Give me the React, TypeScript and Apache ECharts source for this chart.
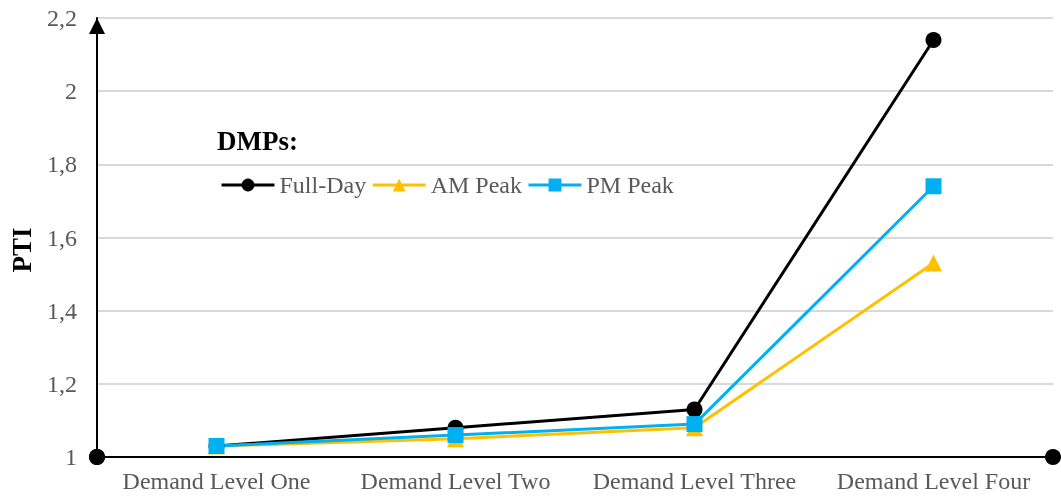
import React, { useEffect, useRef } from "react";
import * as echarts from "echarts";

const categories = ["Demand Level One", "Demand Level Two", "Demand Level Three", "Demand Level Four"];
const fullDay = [1.03, 1.08, 1.13, 2.14];
const amPeak = [1.03, 1.05, 1.08, 1.53];
const pmPeak = [1.03, 1.06, 1.09, 1.74];

const FONT = "'Liberation Serif', 'Times New Roman', serif";

export default function App() {
  const ref = useRef<HTMLDivElement>(null);
  useEffect(() => {
    if (!ref.current) return;
    const chart = echarts.init(ref.current, undefined, { renderer: "svg" });
    const lineSeries = (name: string, data: number[], color: string, symbol: string, size: number) => ({
      name,
      type: "line",
      data,
      symbol,
      symbolSize: size,
      itemStyle: { color },
      lineStyle: { color, width: 3 },
    });
    chart.setOption({
      animation: false,
      textStyle: { fontFamily: FONT },
      title: {
        text: "DMPs:",
        left: 217,
        top: 127,
        padding: 0,
        textStyle: { fontFamily: FONT, fontWeight: "bold", fontSize: 27, color: "#000" },
      },
      graphic: [
        {
          type: "text",
          x: 22,
          y: 250,
          rotation: Math.PI / 2,
          style: {
            text: "PTI",
            fontFamily: FONT,
            fontWeight: "bold",
            fontSize: 27,
            fill: "#000",
            align: "center",
            verticalAlign: "middle",
          },
        },
      ],
      legend: {
        left: 220,
        top: 173,
        padding: 0,
        itemWidth: 53,
        itemHeight: 16,
        itemGap: 5,
        lineStyle: { width: 3 },
        textStyle: { fontFamily: FONT, fontSize: 24, color: "#595959" },
        data: ["Full-Day", "AM Peak", "PM Peak"],
      },
      grid: { left: 97, right: 8, top: 18, bottom: 42, containLabel: false },
      xAxis: {
        type: "category",
        data: categories,
        boundaryGap: true,
        axisLine: {
          lineStyle: { color: "#000", width: 2 },
          symbol: ["circle", "circle"],
          symbolSize: [16, 16],
        },
        axisTick: { show: false },
        axisLabel: { fontFamily: FONT, fontSize: 24, color: "#595959", margin: 12, interval: 0 },
        splitLine: { show: false },
      },
      yAxis: {
        type: "value",
        min: 1,
        max: 2.2,
        interval: 0.2,
        axisLine: {
          show: true,
          lineStyle: { color: "#000", width: 2 },
          symbol: ["circle", "triangle"],
          symbolSize: [16, 16],
          symbolOffset: [0, -8],
        },
        axisTick: { show: false },
        axisLabel: {
          fontFamily: FONT,
          fontSize: 24,
          color: "#595959",
          margin: 20,
          formatter: (v: number) => String(Math.round(v * 10) / 10).replace(".", ","),
        },
        splitLine: { lineStyle: { color: "#d9d9d9", width: 2 } },
      },
      series: [
        lineSeries("Full-Day", fullDay, "#000000", "circle", 16),
        lineSeries("AM Peak", amPeak, "#ffc000", "triangle", 17),
        lineSeries("PM Peak", pmPeak, "#00b0f0", "rect", 16),
      ],
    });
    return () => chart.dispose();
  }, []);
  return <div ref={ref} style={{ position: "fixed", left: 0, top: 0, width: 1061, height: 499 }} />;
}
